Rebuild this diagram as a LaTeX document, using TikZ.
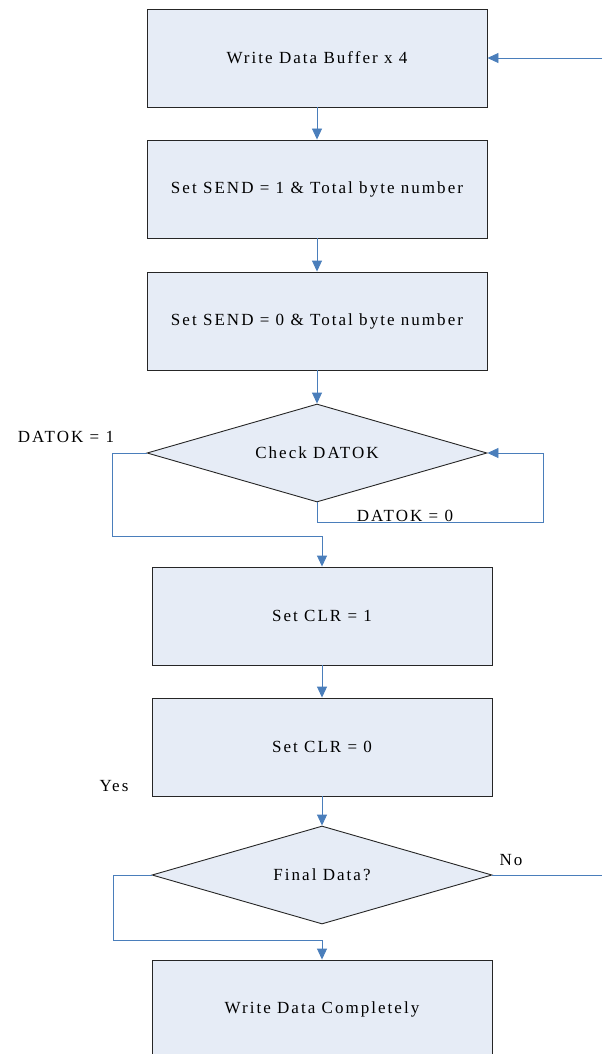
\documentclass[tikz,border=0pt]{standalone}
\usepackage{fontspec}
\setmainfont{Liberation Serif}[LetterSpace=12]
\usetikzlibrary{shapes.geometric,arrows.meta}
\definecolor{boxfill}{HTML}{E6ECF6}
\definecolor{conncol}{HTML}{4A7EBB}
\tikzset{
  stepbox/.style={draw=black!85, fill=boxfill, line width=0.9pt, minimum width=340pt, minimum height=98pt, inner sep=0pt, font=\fontsize{17}{19}\selectfont},
  decide/.style={draw=black!85, fill=boxfill, line width=0.9pt, diamond, minimum width=340pt, minimum height=98pt, inner sep=0pt},
  lbl/.style={font=\fontsize{17}{19}\selectfont, inner sep=0pt},
  conn/.style={draw=conncol, line width=0.9pt},
  arr/.style={conn, -{Triangle[length=11pt,width=10pt]}}
}
\begin{document}
\begin{tikzpicture}[x=1pt,y=-1pt]
\useasboundingbox (0,0) rectangle (602,1054);
\node[stepbox] (b1) at (317,58) {Write Data Buffer x 4};
\node[stepbox] (b2) at (317,189) {Set SEND = 1 \& Total byte number};
\node[stepbox] (b3) at (317,321) {Set SEND = 0 \& Total byte number};
\node[decide] (d1) at (317,453) {};
\node[lbl] (d1t) at (d1.center) {Check DATOK};
\node[stepbox] (b4) at (322,616) {Set CLR = 1};
\node[stepbox] (b5) at (322,747) {Set CLR = 0};
\node[decide] (d2) at (322,875) {};
\node[lbl] (d2t) at (d2.center) {Final Data?};
\node[stepbox] (b6) at (322,1009) {Write Data Completely};
\coordinate (in) at (602,58);
\coordinate (out) at (602,875);
\node[lbl] (l1) at (66,437) {DATOK = 1};
\node[lbl] (l0) at (405,516) {DATOK = 0};
\node[lbl] (ly) at (114,786) {Yes};
\node[lbl] (ln) at (511,860) {No};
\draw[arr] (in) -- (b1.east);
\draw[arr] (b1.south) -- (b2.north);
\draw[arr] (b2.south) -- (b3.north);
\draw[arr] (b3.south) -- (d1.north);
\draw[arr] (d1.south) |- (543,522) |- (d1.east);
\draw[arr] (d1.west) -- (112,453) |- (322,536) -- (b4.north);
\draw[arr] (b4.south) -- (b5.north);
\draw[arr] (b5.south) -- (d2.north);
\draw[arr] (d2.west) -- (113,875) |- (322,940) -- (b6.north);
\draw[conn] (d2.east) -- (out);
\end{tikzpicture}
\end{document}
